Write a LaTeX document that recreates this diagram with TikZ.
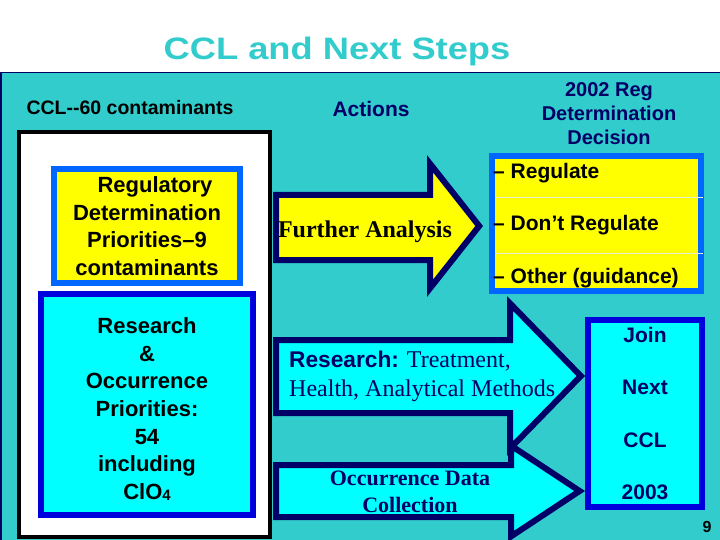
\documentclass[tikz,border=0pt]{standalone}
\usepackage{fontspec}
\usepackage{graphicx}
\setmainfont{Liberation Serif}
\setsansfont{Liberation Sans}
\usetikzlibrary{positioning}

\definecolor{slideteal}{RGB}{51,204,204}
\definecolor{navyblue}{RGB}{0,0,102}
\definecolor{brightblue}{RGB}{0,102,255}
\definecolor{royalblue}{RGB}{0,0,220}
\definecolor{paleline}{RGB}{235,240,210}
\definecolor{boxyellow}{RGB}{255,255,0}
\definecolor{boxcyan}{RGB}{0,255,255}

\newcommand{\fs}[2]{\fontsize{#1}{#2}\selectfont}

\begin{document}
\begin{tikzpicture}[x=1pt, y=-1pt,
    every node/.style={inner sep=0pt},
    heading/.style={font=\sffamily\bfseries\fs{20}{24}, text=navyblue, align=center},
    prioritybox/.style={draw=brightblue, line width=6pt, fill=boxyellow, text=black, align=center, font=\sffamily\bfseries\fs{22}{27.5}},
    researchbox/.style={draw=royalblue, line width=6pt, fill=boxcyan, text=black, align=center, font=\sffamily\bfseries\fs{22}{27.7}},
    decisionbox/.style={draw=brightblue, line width=6pt, fill=boxyellow},
    joinbox/.style={draw=royalblue, line width=6pt, fill=boxcyan, align=center, text=navyblue, font=\sffamily\bfseries\fs{21}{52.3}},
    blockarrow/.style={draw=navyblue, line width=6pt, line join=miter},
    arrowtext/.style={text=navyblue, align=left, font=\fs{24}{29}}
]
\useasboundingbox (0,0) rectangle (720,540);
\fill[white] (0,0) rectangle (720,540);
\draw[navyblue, line width=1.5pt, fill=slideteal] (0.75,72.75) rectangle (730,550);

% headings
\node[anchor=base, text=slideteal, font=\sffamily\bfseries\fs{31}{36}] (title) at (337,60) {\scalebox{1.17}[1]{CCL and Next Steps}};
\node[anchor=base, text=black, font=\sffamily\bfseries\fs{19.5}{24}] (ccllabel) at (130,115) {CCL{-}{-}60 contaminants};
\node[heading, anchor=base, font=\sffamily\bfseries\fs{21}{24}] (actions) at (371,117) {Actions};
\node[heading] (regdecision) at (609,114) {2002 Reg\\Determination\\Decision};

% CCL list
\node[draw=black, line width=4pt, fill=white, minimum width=251pt, minimum height=405pt] (ccllist) at (144.5,334.5) {};
\node[prioritybox, minimum width=186pt, minimum height=114pt] (regprio) at (147,226)
    {\hspace*{16pt}Regulatory\\Determination\\Priorities\textendash9\\contaminants};
\node[researchbox, minimum width=212pt, minimum height=221pt, below=5pt of regprio] (researchprio)
    {\rule{0pt}{25pt}Research\\\&\\Occurrence\\Priorities:\\54\\including\\ClO\raisebox{-1pt}{\fs{15}{15}4}};

% actions
\draw[blockarrow, fill=boxyellow] (276,195) -- (430,195) -- (430,163.7) -- (479.2,226)
    -- (430,288.3) -- (430,260) -- (276,260) -- cycle;
\node[anchor=base, text=black, font=\bfseries\fs{24}{29}] (further) at (365,237) {Further Analysis};

\draw[blockarrow, fill=boxcyan] (276,340) -- (510,340) -- (510,303.4) -- (580.8,376)
    -- (510,448.6) -- (510,413) -- (276,413) -- cycle;
\draw[blockarrow, fill=boxcyan] (276,465) -- (511,465) -- (511,445.6) -- (579.6,491)
    -- (511,536.4) -- (511,517) -- (276,517) -- cycle;
\node[arrowtext, anchor=west] (researchtext) at (289,376)
    {{\sffamily\bfseries\fs{22.7}{29}Research:} Treatment,\\Health, Analytical Methods};
\node[text=navyblue, align=center, font=\bfseries\fs{22}{27}] (occtext) at (410,492) {Occurrence Data\\Collection};

% decision
\node[decisionbox, minimum width=209pt, minimum height=135pt] (decision) at (596.5,223.5) {};
\draw[paleline, line width=1pt] (495,198) -- (703,198);
\draw[paleline, line width=1pt] (495,253) -- (703,253);
\node[anchor=west, align=left, text=black, font=\sffamily\bfseries\fs{21}{52.5}] (options) at (493,225.5)
    {\textendash{} Regulate\\\textendash{} Don’t Regulate\\\textendash{} Other (guidance)};

\node[joinbox, minimum width=114pt, minimum height=187pt] (joinccl) at (645,413.5) {Join\\Next\\CCL\\2003};
\node[anchor=base, text=black, font=\sffamily\bfseries\fs{16}{18}] (pagenum) at (707,532) {9};
\end{tikzpicture}
\end{document}
